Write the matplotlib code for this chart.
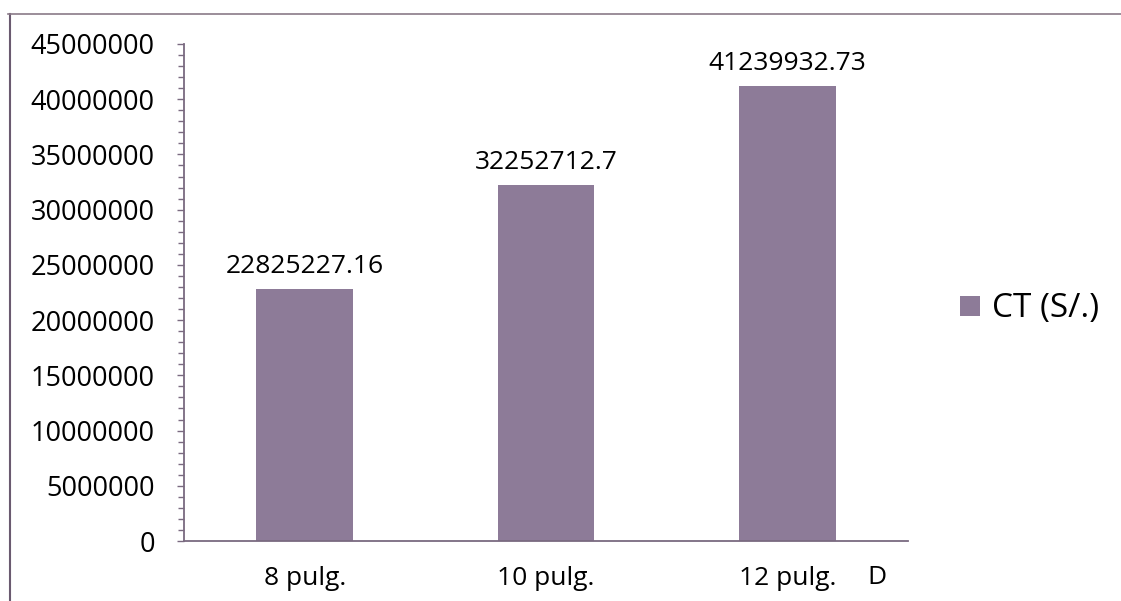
import matplotlib
matplotlib.use("Agg")
import matplotlib.pyplot as plt
from matplotlib.ticker import MultipleLocator, FuncFormatter
from matplotlib.lines import Line2D

categories = ["8 pulg.", "10 pulg.", "12 pulg."]
values = [22825227.16, 32252712.7, 41239932.73]
value_labels = ["22825227.16", "32252712.7", "41239932.73"]
series_name = "CT (S/.)"
axis_title = "D"

plt.rcParams['font.family'] = ['Open Sans', 'DejaVu Sans']

W, H = 1121, 601
fig = plt.figure(figsize=(W / 100, H / 100), dpi=100)
fig.patch.set_facecolor("white")

ax = fig.add_axes([184 / W, 60 / H, (908 - 184) / W, 497 / H])
bar_color = "#8d7b98"
axis_color = "#7a6a80"

x = list(range(len(categories)))
bars = ax.bar(x, values, width=0.40, color=bar_color, label=series_name,
              edgecolor="none")

for xi, v, lab in zip(x, values, value_labels):
    ax.annotate(lab, (xi, v), xytext=(0, 7), textcoords="offset points",
                ha="center", va="bottom", fontsize=19, color="black")

ax.set_xlim(-0.5, 2.5)
ax.set_ylim(0, 45000000)
ax.yaxis.set_major_locator(MultipleLocator(5000000))
ax.yaxis.set_minor_locator(MultipleLocator(1000000))
ax.yaxis.set_major_formatter(FuncFormatter(lambda v, p: f"{int(round(v))}"))
ax.set_xticks(x)
ax.set_xticklabels(categories)

for s in ["top", "right"]:
    ax.spines[s].set_visible(False)
for s in ["left", "bottom"]:
    ax.spines[s].set_color(axis_color)
    ax.spines[s].set_linewidth(1.3)

ax.tick_params(axis="y", which="major", length=5, width=1, color=axis_color,
               labelsize=19.5, pad=16)
ax.tick_params(axis="y", which="minor", length=4, width=1, color=axis_color)
ax.tick_params(axis="x", which="both", length=0, labelsize=19, pad=18)

fig.text(877 / W, 1 - 578 / H, axis_title, fontsize=19, ha="center", va="center")

ax.legend(handles=[bars], loc="center left",
          bbox_to_anchor=(960 / W, 1 - 309 / H), bbox_transform=fig.transFigure,
          frameon=False, fontsize=24, handlelength=0.6, handleheight=0.55,
          handletextpad=0.35, borderpad=0, borderaxespad=0)

# outer chart frame (left and top edges)
fig.add_artist(Line2D([10 / W, 10 / W], [0, 1 - 14 / H], transform=fig.transFigure,
                      color="#6a5a70", linewidth=1.5))
fig.add_artist(Line2D([8 / W, 1], [1 - 14 / H, 1 - 14 / H], transform=fig.transFigure,
                      color="#8a7a88", linewidth=1.2))

fig.savefig("out.png", dpi=100, facecolor="white")
